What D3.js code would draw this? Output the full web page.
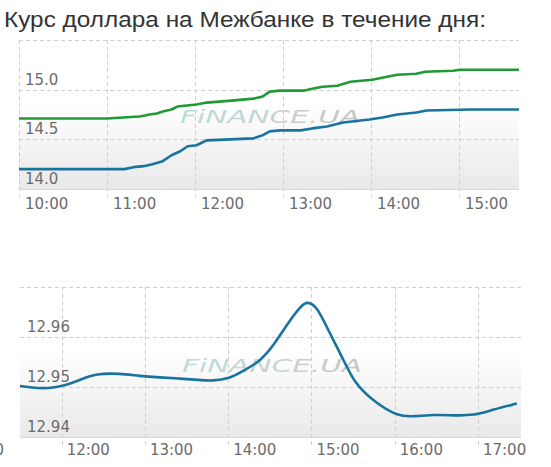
<!DOCTYPE html>
<html>
<head>
<meta charset="utf-8">
<script src="https://cdn.jsdelivr.net/npm/d3@7"></script>
<style>
  body { margin: 0; background: #fff; }
  svg { display: block; }
</style>
</head>
<body>
<script>
// курс на Межбанке
const title = 'Курс доллара на Межбанке в течение дня:';

// верхний график: продажа (зелёная)
const askTimes = ['10:00', '11:00', '11:22', '11:26', '11:29', '11:34', '11:38', '11:41', '11:44', '11:48', '12:01', '12:08', '12:25', '12:40', '12:46', '12:51', '12:58', '13:14', '13:20', '13:27', '13:37', '13:46', '14:01', '14:11', '14:18', '14:31', '14:37', '14:56', '15:01', '15:41'];
const askValues = [14.71, 14.71, 14.73, 14.74, 14.75, 14.76, 14.78, 14.79, 14.80, 14.83, 14.85, 14.87, 14.89, 14.91, 14.93, 14.98, 14.99, 14.99, 15.01, 15.03, 15.04, 15.08, 15.10, 15.13, 15.15, 15.16, 15.18, 15.19, 15.20, 15.20];
// покупка (синяя)
const bidTimes = ['10:00', '11:12', '11:18', '11:25', '11:31', '11:38', '11:44', '11:50', '11:55', '12:01', '12:08', '12:40', '12:46', '12:51', '12:58', '13:12', '13:20', '13:30', '13:41', '13:59', '14:08', '14:18', '14:31', '14:38', '15:08', '15:41'];
const bidValues = [14.20, 14.20, 14.22, 14.23, 14.25, 14.28, 14.34, 14.38, 14.43, 14.44, 14.49, 14.51, 14.54, 14.58, 14.59, 14.59, 14.61, 14.63, 14.67, 14.70, 14.72, 14.75, 14.77, 14.79, 14.80, 14.80];
const topYTicks = [14.0, 14.5, 15.0, 15.5];

// нижний график
const bottomTimes = ['11:30', '11:39', '11:46', '11:55', '12:04', '12:13', '12:25', '12:42', '12:56', '13:11', '13:25', '13:39', '13:49', '14:01', '14:10', '14:23', '14:33', '14:43', '14:53', '14:57', '15:04', '15:12', '15:22', '15:31', '15:45', '16:02', '16:14', '16:29', '16:43', '16:57', '17:10', '17:28'];
const bottomValues = [12.9502, 12.9499, 12.9497, 12.9499, 12.9504, 12.9514, 12.9527, 12.9527, 12.9522, 12.9519, 12.9517, 12.9514, 12.9512, 12.9517, 12.9531, 12.9551, 12.9584, 12.9628, 12.9664, 12.9671, 12.9661, 12.9614, 12.9561, 12.9507, 12.9471, 12.9441, 12.9441, 12.9445, 12.9443, 12.9443, 12.9454, 12.9467];
const bottomYTicks = [12.94, 12.95, 12.96, 12.97];

const parseTime = d3.timeParse('%H:%M');

const svg = d3.select('body').append('svg')
  .attr('width', 551)
  .attr('height', 467);

svg.append('text')
  .attr('x', 4)
  .attr('y', 27)
  .attr('textLength', 482)
  .attr('lengthAdjust', 'spacingAndGlyphs')
  .style('font-family', '"Liberation Sans", Arial, sans-serif')
  .style('font-size', '21.5px')
  .style('fill', '#333')
  .text(title);

const defs = svg.append('defs');
let bg = defs.append('linearGradient')
  .attr('id', 'plotBg')
  .attr('x1', 0).attr('y1', 0).attr('x2', 0).attr('y2', 1);
bg.append('stop').attr('offset', 0).attr('stop-color', '#fff');
bg.append('stop').attr('offset', 0.42).attr('stop-color', '#fff');
bg.append('stop').attr('offset', 1).attr('stop-color', '#e9e9e9');

let wm = defs.append('linearGradient')
  .attr('id', 'wmFill')
  .attr('x1', 0).attr('y1', 0).attr('x2', 1).attr('y2', 0);
wm.append('stop').attr('offset', 0).attr('stop-color', '#b9ddd8');
wm.append('stop').attr('offset', 0.5).attr('stop-color', '#c9d3d2');
wm.append('stop').attr('offset', 1).attr('stop-color', '#c4c4c4');

/**
 * рисуем один график
 */
function drawChart(opt) {
  let x = d3.scaleTime()
    .domain(opt.timeDomain.map(parseTime))
    .range([opt.left, opt.right]);
  let y = d3.scaleLinear()
    .domain(opt.yDomain)
    .range([opt.bottom, opt.top]);

  let g = svg.append('g');

  g.append('rect')
    .attr('x', opt.left)
    .attr('y', opt.top)
    .attr('width', opt.right - opt.left)
    .attr('height', opt.bottom - opt.top)
    .style('fill', 'url(#plotBg)');

  // горизонтальная сетка
  g.selectAll('.hgrid')
    .data(opt.yTicks.slice(1))
    .enter().append('line')
    .attr('x1', opt.left)
    .attr('x2', opt.right)
    .attr('y1', d => Math.round(y(d)) + 0.5)
    .attr('y2', d => Math.round(y(d)) + 0.5)
    .style('stroke', '#cfcfcf')
    .style('stroke-dasharray', '4,3');

  // вертикальная сетка + засечки
  let hours = x.ticks(d3.timeHour.every(1));
  g.selectAll('.vgrid')
    .data(hours)
    .enter().append('line')
    .attr('x1', d => Math.round(x(d)) + 0.5)
    .attr('x2', d => Math.round(x(d)) + 0.5)
    .attr('y1', opt.top)
    .attr('y2', opt.bottom + 8)
    .style('stroke', '#cfcfcf')
    .style('stroke-dasharray', '4,3');

  if (opt.leftBorder) {
    g.append('line')
      .attr('x1', opt.left + 0.5).attr('x2', opt.left + 0.5)
      .attr('y1', opt.top).attr('y2', opt.bottom + 8)
      .style('stroke', '#cfcfcf')
      .style('stroke-dasharray', '4,3');
  }

  // ось X
  g.append('line')
    .attr('x1', opt.left)
    .attr('x2', opt.right)
    .attr('y1', opt.bottom + 0.5)
    .attr('y2', opt.bottom + 0.5)
    .style('stroke', '#d8d8d8');

  // водяной знак
  g.append('text')
    .attr('x', opt.wmX)
    .attr('y', opt.wmY)
    .attr('textLength', 180)
    .attr('lengthAdjust', 'spacingAndGlyphs')
    .style('font-family', '"DejaVu Sans", sans-serif')
    .style('font-style', 'italic')
    .style('font-size', '18px')
    .style('fill', 'url(#wmFill)')
    .text('FiNANCE.UA');

  let line = d3.line()
    .x(d => x(d[0]))
    .y(d => y(d[1]))
    .curve(opt.curve);

  opt.series.forEach(function (s) {
    g.append('path')
      .datum(s.times.map((t, i) => [parseTime(t), s.values[i]]))
      .attr('d', line)
      .style('fill', 'none')
      .style('stroke', s.color)
      .style('stroke-width', 2.6)
      .style('stroke-linejoin', 'round');
  });

  // подписи Y внутри области
  g.selectAll('.ylab')
    .data(opt.yTicks.slice(0, -1))
    .enter().append('text')
    .attr('x', opt.left + opt.yLabelDx)
    .attr('y', d => y(d) - 5)
    .style('font-family', '"DejaVu Sans", Verdana, sans-serif')
    .style('font-size', opt.fontSize)
    .style('fill', '#6b6b6b')
    .text(opt.yFormat);

  // подписи X
  let fmt = d3.timeFormat('%H:%M');
  g.selectAll('.xlab')
    .data(hours)
    .enter().append('text')
    .attr('x', d => x(d) + opt.xLabelDx)
    .attr('y', opt.bottom + opt.xLabelDy)
    .style('font-family', '"DejaVu Sans", Verdana, sans-serif')
    .style('font-size', opt.fontSize)
    .style('fill', '#6b6b6b')
    .text(fmt);

  return { x: x, y: y, g: g };
}

drawChart({
  left: 19, right: 519, top: 40, bottom: 189,
  timeDomain: ['10:00', '15:41'],
  yDomain: [14.0, 15.5],
  yTicks: topYTicks,
  yFormat: d3.format('.1f'),
  yLabelDx: 6,
  xLabelDx: 6,
  xLabelDy: 20,
  fontSize: '15px',
  leftBorder: true,
  wmX: 180, wmY: 123,
  curve: d3.curveLinear,
  series: [
    { times: askTimes, values: askValues, color: '#1f9a34' },
    { times: bidTimes, values: bidValues, color: '#18739f' }
  ]
});

let bottomChart = drawChart({
  left: 20, right: 521, top: 287, bottom: 437,
  timeDomain: ['11:30', '17:31'],
  yDomain: [12.94, 12.97],
  yTicks: bottomYTicks,
  yFormat: d3.format('.2f'),
  yLabelDx: 7,
  xLabelDx: 5,
  xLabelDy: 18,
  fontSize: '15px',
  leftBorder: false,
  wmX: 182, wmY: 372,
  curve: d3.curveBasis,
  series: [
    { times: bottomTimes, values: bottomValues, color: '#18739f' }
  ]
});

// обрезанная подпись 11:00 у левого края
bottomChart.g.append('text')
  .attr('x', 4)
  .attr('y', 455)
  .attr('text-anchor', 'end')
  .style('font-family', '"DejaVu Sans", Verdana, sans-serif')
  .style('font-size', '15px')
  .style('fill', '#6b6b6b')
  .text(d3.timeFormat('%H:%M')(parseTime('11:00')));
</script>
</body>
</html>
